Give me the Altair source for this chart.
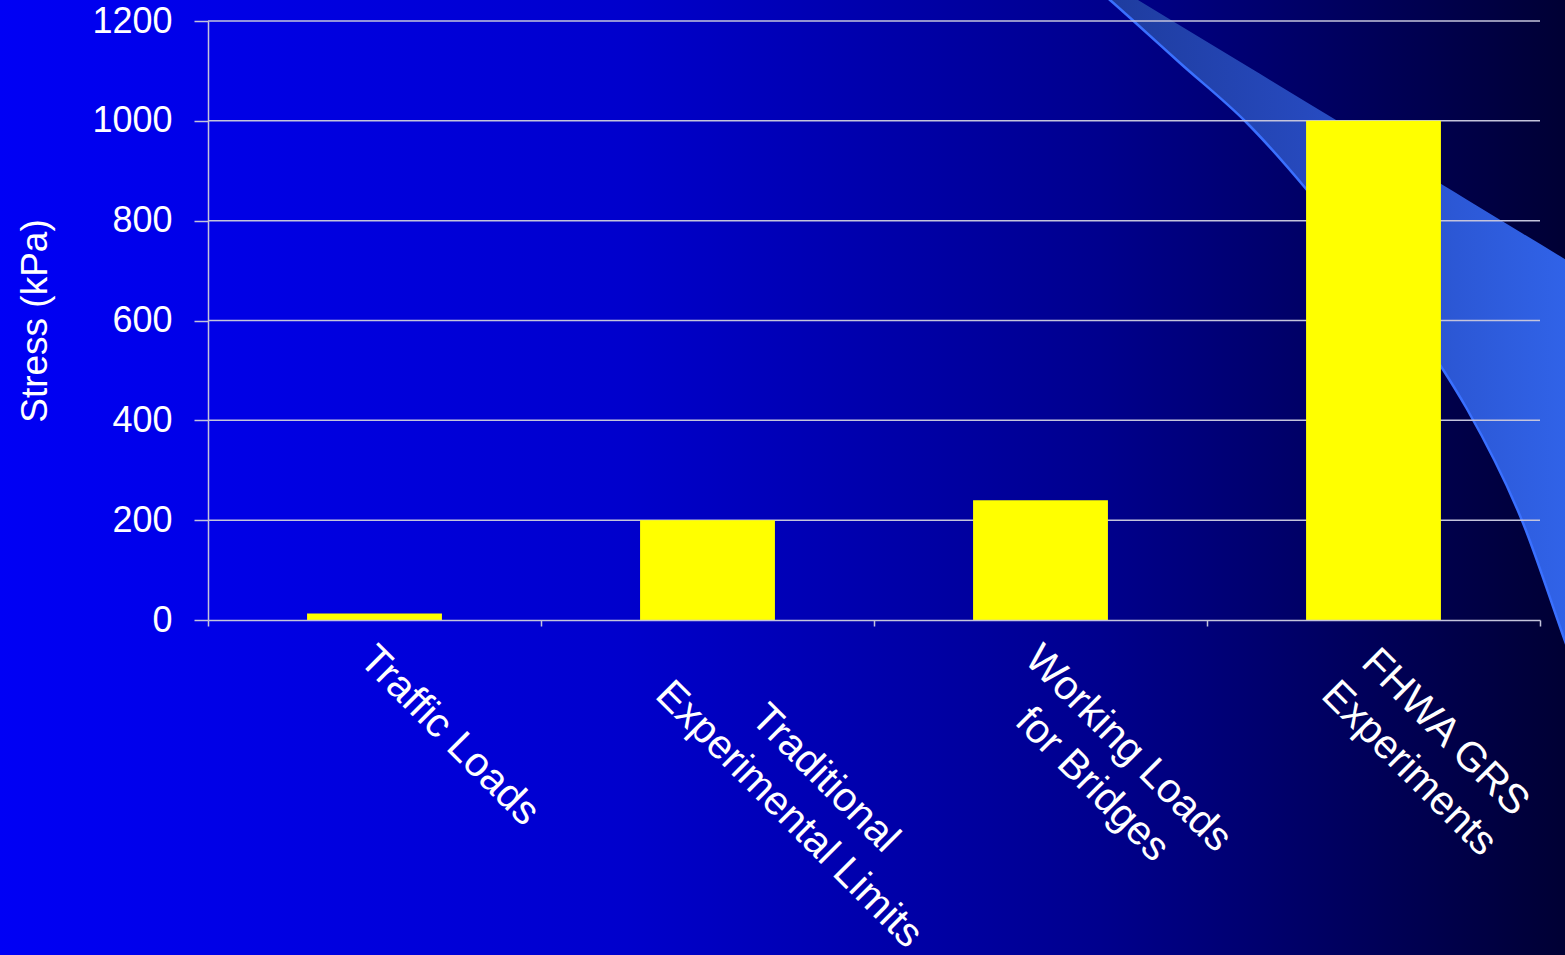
import altair as alt
import pandas as pd

# ---------------- data ----------------
category_keys = ["Traffic Loads", "Traditional Experimental Limits",
                 "Working Loads for Bridges", "FHWA GRS Experiments"]
category_labels = ["Traffic Loads", "Traditional\nExperimental Limits",
                   "Working Loads\nfor Bridges", "FHWA GRS\nExperiments"]
stress_kpa = [13, 200, 240, 1000]
y_tick_values = [0, 200, 400, 600, 800, 1000, 1200]
grid_values = [200, 400, 600, 800, 1000, 1200]

# decorative slide swoosh (screen pixels of the reference)
swoosh_x = [1080, 1110, 1138, 1180, 1247, 1307, 1370, 1442, 1467, 1523, 1565, 1580]
swoosh_top = [-35, -17, 0, 25.5, 66, 102.6, 140.8, 184.5, 199.7, 233.7, 259.2, 268.3]
swoosh_bottom = [-25, 0, 25, 63, 123, 190, 270, 368, 409, 523, 641, 683]

# ---------------- layout ----------------
W, H = 1332, 599
PAD_L, PAD_T, PAD_R, PAD_B = 208, 21, 25, 335
FONT = "Liberation Sans"
LINE = "#c4c4dc"
LABEL_FS = 41
SHIFT = 5  # small horizontal nudge of the rotated labels

CHAR_W = {"T": 611, "r": 333, "a": 556, "f": 278, "i": 222, "c": 500, " ": 278,
          "L": 556, "o": 556, "d": 556, "s": 500, "E": 667, "x": 500, "p": 556,
          "e": 556, "m": 833, "n": 556, "t": 278, "l": 222, "W": 944, "k": 500,
          "g": 556, "B": 667, "F": 611, "H": 722, "A": 667, "G": 778, "R": 722,
          "S": 667}


def text_width(s, fs=LABEL_FS):
    return sum(CHAR_W.get(ch, 556) for ch in s) * fs / 1000.0


df = pd.DataFrame({"key": category_keys, "label": category_labels, "stress": stress_kpa})
grid_df = pd.DataFrame({"stress": grid_values})
sw_df = pd.DataFrame({
    "sx": [x - PAD_L for x in swoosh_x],
    "sy": [y - PAD_T for y in swoosh_top],
    "sy2": [y - PAD_T for y in swoosh_bottom],
})

xscale = alt.Scale(domain=category_keys, paddingInner=0, paddingOuter=0)
yscale = alt.Scale(domain=[0, 1200], nice=False, zero=True)

# identical axis definitions are given to every layer that shares a scale
x_axis = alt.Axis(labels=False, title=None, tickBand="extent", tickSize=6,
                  tickColor=LINE, tickWidth=1.5, domainColor=LINE,
                  domainWidth=1.5, grid=False, zindex=1)
y_axis = alt.Axis(values=y_tick_values, format="d", grid=False,
                  domainColor=LINE, domainWidth=1.5, tickColor=LINE,
                  tickWidth=1.5, tickSize=14, labelFontSize=36,
                  labelColor="white", labelFont=FONT, labelPadding=22,
                  title="Stress (kPa)", titleFontSize=37, titleFont=FONT,
                  titleColor="white", titleFontWeight="normal",
                  titleAngle=270, titleX=35 - PAD_L, titleY=H / 2,
                  titleAlign="center", titleBaseline="middle", zindex=1)
X_ENC = alt.X("key:N", scale=xscale, sort=category_keys, axis=x_axis)
Y_ENC = alt.Y("stress:Q", scale=yscale, axis=y_axis)

# ---------- decoration (background gradient + swoosh) ----------
bg = alt.Chart(pd.DataFrame({"d": [0]})).mark_rect(
    fill=alt.LinearGradient(
        gradient="linear", x1=0, x2=1, y1=0, y2=0,
        stops=[alt.GradientStop(offset=0, color="#0000f5"),
               alt.GradientStop(offset=0.4, color="#0000cc"),
               alt.GradientStop(offset=0.7, color="#00008e"),
               alt.GradientStop(offset=0.88, color="#000058"),
               alt.GradientStop(offset=1, color="#000034")]),
    strokeWidth=0,
).encode(
    x=alt.value(-PAD_L), x2=alt.value(W + PAD_R),
    y=alt.value(-PAD_T), y2=alt.value(H + PAD_B),
)

swoosh = alt.Chart(sw_df).mark_area(
    orient="vertical", interpolate="monotone",
    fill=alt.LinearGradient(
        gradient="linear", x1=0, x2=1, y1=0, y2=0,
        stops=[alt.GradientStop(offset=0, color="#1d3a9a"),
               alt.GradientStop(offset=0.45, color="#2649bd"),
               alt.GradientStop(offset=1, color="#3164ea")]),
).encode(
    x=alt.X("sx:Q", scale=None),
    y=alt.Y("sy:Q", scale=None),
    y2="sy2:Q",
)

swoosh_edge = alt.Chart(sw_df).mark_line(
    interpolate="monotone", color="#3a70ff", strokeWidth=2.5
).encode(
    x=alt.X("sx:Q", scale=None),
    y=alt.Y("sy2:Q", scale=None),
)

# ---------- chart ----------
grid = alt.Chart(grid_df).mark_rule(color=LINE, strokeWidth=1.5).encode(y=Y_ENC)

bars = alt.Chart(df).mark_bar(
    color="#ffff00", width=alt.RelativeBandSize(0.405)
).encode(x=X_ENC, y=Y_ENC)

label_layers = []
for key, lab in zip(category_keys, category_labels):
    wmax = max(text_width(line) for line in lab.split("\n"))
    label_layers.append(
        alt.Chart(df).transform_filter(alt.datum.key == key).mark_text(
            angle=45, align="center", baseline="top",
            dx=wmax / 2.0 + SHIFT * 0.707, dy=-SHIFT * 0.707,
            lineBreak="\n", lineHeight=51, fontSize=LABEL_FS, font=FONT,
            color="white",
        ).encode(
            x=X_ENC,
            y=alt.value(H + 18),
            text="label:N",
        )
    )

chart = alt.layer(
    bg, swoosh, swoosh_edge, grid, bars, *label_layers
).properties(
    width=W, height=H,
    padding={"left": PAD_L, "top": PAD_T, "right": PAD_R, "bottom": PAD_B},
    autosize=alt.AutoSizeParams(type="none"),
    background="#000080",
).configure_view(stroke=None)

chart.save("out.html", embed_options={"renderer": "svg", "actions": False})
